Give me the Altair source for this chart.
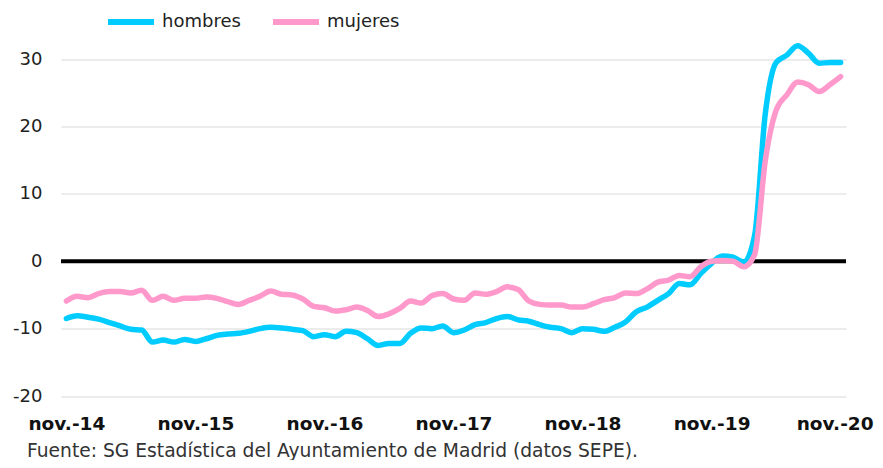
import altair as alt
import pandas as pd

months = list(range(73))
tick_values = [0, 12, 24, 36, 48, 60, 72]
tick_labels = ["nov.-14", "nov.-15", "nov.-16", "nov.-17", "nov.-18", "nov.-19", "nov.-20"]

hombres = [-8.5, -8.1, -8.3, -8.6, -9.1, -9.6, -10.1, -10.2, -12.0, -11.7, -12.0, -11.6,
           -11.9, -11.5, -11.0, -10.8, -10.7, -10.4, -10.0, -9.8, -9.9, -10.1, -10.3, -11.2,
           -10.9, -11.2, -10.4, -10.6, -11.5, -12.5, -12.2, -12.2, -10.7, -9.9, -10.0, -9.6,
           -10.6, -10.2, -9.4, -9.1, -8.5, -8.2, -8.7, -8.9, -9.4, -9.8, -10.0, -10.6,
           -10.0, -10.1, -10.4, -9.8, -9.0, -7.5, -6.8, -5.8, -4.8, -3.3, -3.5, -1.8,
           -0.3, 0.8, 0.6, -0.1, 3.8, 22.0, 29.5, 30.6, 32.0, 30.9, 29.4, 29.5, 29.5]
mujeres = [-5.9, -5.2, -5.4, -4.8, -4.5, -4.5, -4.7, -4.3, -5.8, -5.2, -5.8, -5.5,
           -5.5, -5.3, -5.5, -6.0, -6.4, -5.8, -5.2, -4.4, -4.9, -5.0, -5.6, -6.7,
           -6.9, -7.4, -7.2, -6.8, -7.3, -8.2, -7.8, -7.0, -5.9, -6.2, -5.1, -4.8,
           -5.6, -5.8, -4.7, -4.9, -4.5, -3.8, -4.2, -5.9, -6.4, -6.5, -6.5, -6.8,
           -6.8, -6.3, -5.7, -5.4, -4.7, -4.8, -4.1, -3.1, -2.8, -2.1, -2.3, -0.8,
           0.0, 0.1, 0.0, -0.8, 1.0, 15.0, 22.4, 24.7, 26.6, 26.2, 25.2, 26.2, 27.4]
series = ["hombres", "mujeres"]
colors = ["#00CCFF", "#FF99CC"]
source_text = "Fuente: SG Estadística del Ayuntamiento de Madrid (datos SEPE)."

rows = []
for s, vals in zip(series, [hombres, mujeres]):
    for m, v in zip(months, vals):
        rows.append({"mes": m, "valor": v, "serie": s})
df = pd.DataFrame(rows)

label_expr = "{" + ",".join(f"'{v}':'{l}'" for v, l in zip(tick_values, tick_labels)) + "}[datum.value]"
y_label_expr = "datum.value < 0 ? '-' + abs(datum.value) : '' + datum.value"

FONT = "DejaVu Sans"

x_scale = alt.Scale(domain=[-0.5, 72.5], nice=False, zero=False)
y_scale = alt.Scale(domain=[-20, 35], nice=False)

lines = alt.Chart(df).mark_line(strokeWidth=5.5, interpolate="monotone", strokeCap="round").encode(
    x=alt.X("mes:Q", scale=x_scale,
            axis=alt.Axis(values=tick_values, labelExpr=label_expr, title=None, grid=False,
                          domain=False, ticks=False, tickSize=0, labelPadding=33,
                          labelBaseline="alphabetic", labelFont=FONT, labelFontSize=18.5,
                          labelFontWeight="bold", labelColor="#111", labelFlush=False,
                          labelOverlap=False,
                          labelOffset={"condition": {"test": "datum.value == 72", "value": -6},
                                       "value": 0})),
    y=alt.Y("valor:Q", scale=y_scale,
            axis=alt.Axis(values=[-20, -10, 0, 10, 20, 30], title=None, domain=False, ticks=False,
                          tickSize=0, labelPadding=19, gridColor="#d9d9d9", gridWidth=1,
                          labelExpr=y_label_expr,
                          labelFont=FONT, labelFontSize=18, labelColor="#222")),
    color=alt.Color("serie:N", scale=alt.Scale(domain=series, range=colors),
                    legend=alt.Legend(title=None, orient="none", direction="horizontal",
                                      legendX=44, legendY=-29.5, symbolType="stroke",
                                      symbolSize=2116, symbolStrokeWidth=6, labelOffset=5,
                                      columnPadding=20, labelFont=FONT, labelFontSize=18,
                                      labelColor="#222")),
    order=alt.Order("mes:Q"),
)

zero_df = pd.DataFrame({"y": [0]})
zero = alt.Chart(zero_df).mark_rule(color="#000000", strokeWidth=4).encode(
    y=alt.Y("y:Q", scale=y_scale)
)

src_df = pd.DataFrame({"t": [source_text]})
caption = alt.Chart(src_df).mark_text(align="left", baseline="alphabetic", font=FONT,
                                      fontSize=18.7, color="#333").encode(
    text="t:N", x=alt.value(-34), y=alt.value(431.5)
)

chart = alt.layer(zero, lines, caption).properties(
    width=785, height=370.5,
    autosize=alt.AutoSizeParams(type="none"),
    padding={"left": 53, "top": 17.5, "right": 29, "bottom": 64},
).configure_view(stroke=None).configure_axis(gridColor="#d9d9d9")

chart.save("out.html", embed_options={"renderer": "svg", "actions": False})
